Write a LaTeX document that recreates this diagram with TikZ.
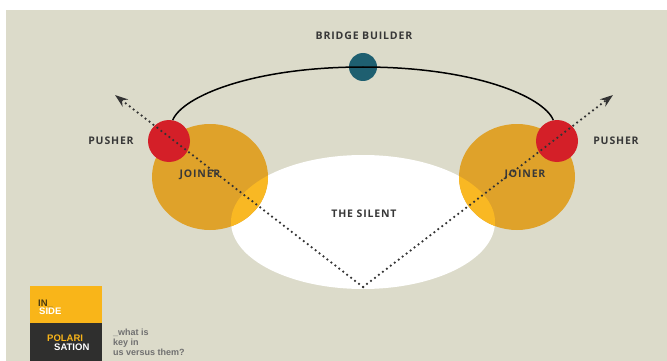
\documentclass[tikz,border=0pt]{standalone}
\usepackage{fontspec}
\usetikzlibrary{shapes.geometric,arrows.meta,positioning}
\newfontfamily\lblfont[LetterSpace=8]{Open Sans}
\newfontfamily\logofont{Liberation Sans}
\definecolor{beige}{HTML}{DCDBCA}
\definecolor{joiner}{HTML}{DFA22A}
\definecolor{joinlite}{HTML}{F9B823}
\definecolor{pushc}{HTML}{D41F28}
\definecolor{bridgec}{HTML}{1E5F70}
\definecolor{ink}{HTML}{383838}
\definecolor{trailc}{HTML}{333333}
\definecolor{logoY}{HTML}{F9B519}
\definecolor{logoD}{HTML}{2F2F2E}
\definecolor{logoT}{HTML}{4A3B12}
\definecolor{note}{HTML}{707070}

\begin{document}
\begin{tikzpicture}
	[x=1pt,y=-1pt,
	blob/.style={shape=ellipse,inner sep=0pt,draw=none},
	dot/.style={shape=circle,inner sep=0pt,draw=none},
	lbl/.style={font=\lblfont\bfseries\fontsize{10.5}{11}\selectfont,text=ink,inner sep=0pt,anchor=base},
	logo/.style={font=\logofont\bfseries\fontsize{9.5}{10}\selectfont,inner sep=0pt,anchor=base west},
	trail/.style={draw=trailc,line width=2.5pt,line cap=round,dash pattern=on 0pt off 5pt,
		-{Stealth[length=13pt,width=9pt,fill=black]}}]
	\useasboundingbox (0,0) rectangle (667,361);
	\fill[white] (0,0) rectangle (667,361);
	\fill[beige] (6,10) rectangle (667,361);

	\node[blob,fill=white,minimum width=264,minimum height=134] (silent) at (363,222) {};
	\node[blob,fill=joiner,minimum width=116,minimum height=106] (joinL) at (210,177) {};
	\node[blob,fill=joiner,minimum width=116,minimum height=106] (joinR) at (517,177) {};
	\begin{scope}
		\clip (silent.center) ellipse [x radius=132,y radius=67];
		\fill[joinlite] (joinL.center) ellipse [x radius=58,y radius=53]
			(joinR.center) ellipse [x radius=58,y radius=53];
	\end{scope}
	\node[dot,fill=pushc,minimum size=42] (pushL) at (169,141) {};
	\node[dot,fill=pushc,minimum size=42] (pushR) at (557,141) {};
	\node[dot,fill=bridgec,minimum size=28] (bridge) at (363,67) {};

	\draw[line width=1.5pt,black] (pushL.80) .. controls +(10,-24) and +(-110,0) .. (bridge.center)
		.. controls +(110,0) and +(-10,-24) .. (pushR.100);

	\coordinate (base) at (363,287);
	\coordinate (tipL) at (115,95);
	\coordinate (tipR) at (613,95);
	\foreach \tip in {tipL,tipR}{
		\draw[trail] (base) -- (\tip);
	}

	\node[lbl] (bridgeLbl) at (364,40) {BRIDGE BUILDER};
	\node[lbl] (pushLLbl) at (111,144) {PUSHER};
	\node[lbl] (pushRLbl) at (616,144) {PUSHER};
	\node[lbl] (joinLLbl) at (200,177) {JOINER};
	\node[lbl] (joinRLbl) at (525,177) {JOINER};
	\node[lbl] (silentLbl) at (364,217) {THE SILENT};

	\node[fill=logoY,minimum width=72,minimum height=37,inner sep=0pt] (inside) at (66,304.5) {};
	\node[fill=logoD,minimum width=72,minimum height=38,inner sep=0pt,below=0pt of inside] (polar) {};
	\node[logo,text=logoT] (in) at (38,306) {IN\_};
	\node[logo,text=white] (side) at (39,314) {SIDE};
	\node[logo,text=logoY] (polari) at (47,341) {POLARI};
	\node[logo,text=white] (sation) at (54,350) {SATION};
	\node[logo,text=note,font=\logofont\bfseries\fontsize{9}{10}\selectfont,align=left,anchor=north west]
		(question) at (113,329) {\_what is\\key in\\us versus them?};
\end{tikzpicture}
\end{document}
